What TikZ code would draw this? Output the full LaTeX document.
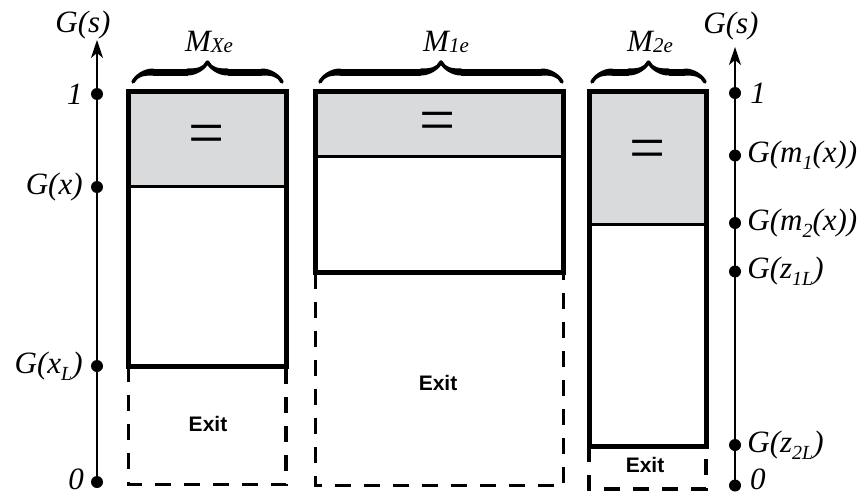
\documentclass[tikz,border=0pt]{standalone}
\usepackage{fontspec}
\setmainfont{Liberation Serif}
\newfontfamily\exitfont{Liberation Sans}
\usetikzlibrary{arrows.meta,decorations.pathreplacing,calligraphy,positioning}
\definecolor{boxgray}{RGB}{217,218,220}
\newcommand\lsub[1]{\raisebox{-0.22em}{\fontsize{20}{20}\selectfont #1}}
\newcommand\msub[1]{\raisebox{-0.02em}{\fontsize{21}{21}\selectfont #1}}
\begin{document}
\begin{tikzpicture}[x=1pt,y=-1pt,
  lbl/.style={font=\fontsize{31}{33}\selectfont\itshape, inner sep=2pt},
  dot/.style={circle,fill=black,inner sep=0pt,minimum size=12pt},
  axis/.style={line width=1.4pt,-{Stealth[length=18pt,width=12pt,inset=5pt]}},
  solidbox/.style={line width=5pt},
  divider/.style={line width=3pt},
  exitbox/.style={line width=3.6pt,dash pattern=on 16pt off 13pt},
  exitlbl/.style={font=\exitfont\bfseries\fontsize{21}{21}\selectfont},
  eqlbl/.style={font=\fontsize{64}{64}\selectfont, inner sep=0pt},
  brc/.style={decorate,decoration={calligraphic brace,amplitude=20pt},line width=7pt},
]
\useasboundingbox (0,0) rectangle (861,495);

% ---- left axis
\node[dot] (l1) at (97,94) {};
\node[dot] (lx) at (97,187) {};
\node[dot] (lxl) at (97,366) {};
\node[dot] (l0) at (97,482) {};
\coordinate (ltop) at (97,40);
\draw[axis] (l0.center) -- (ltop);
\node[lbl,left=6pt of l1] (tl1) {1};
\node[lbl,left=6pt of lx] (tlx) {G(x)};
\node[lbl,left=6pt of lxl] (tlxl) {G(x\lsub{L})};
\node[lbl,anchor=base east] (tl0) at (86,489) {0};
\node[lbl,anchor=base] (tls) at (83,33) {G(s)};

% ---- right axis
\node[dot] (r1) at (735,93) {};
\node[dot] (rm1) at (735,155.5) {};
\node[dot] (rm2) at (735,223) {};
\node[dot] (rz1) at (735,271.5) {};
\node[dot] (rz2) at (735,445) {};
\node[dot] (r0) at (735,485.5) {};
\coordinate (rtop) at (735,47);
\draw[axis] (r0.center) -- (rtop);
\node[lbl,right=7pt of r1] (tr1) {1};
\node[lbl,right=4pt of rm1] (trm1) {G(m\lsub{1}(x))};
\node[lbl,right=4pt of rm2] (trm2) {G(m\lsub{2}(x))};
\node[lbl,right=4pt of rz1] (trz1) {G(z\lsub{1L})};
\node[lbl,right=4pt of rz2] (trz2) {G(z\lsub{2L})};
\node[lbl,anchor=base west] (tr0) at (748,489) {0};
\node[lbl,anchor=base] (trs) at (731,34) {G(s)};

% ---- box MXe
\fill[boxgray] (128.5,91) rectangle (286,186);
\draw[divider] (128.5,186) -- (286,186);
\draw[solidbox] (128.5,91) rectangle (286,366);
\draw[exitbox] (128.5,366) -- (128.5,484.5) -- (286,484.5) -- (286,366);
\node[eqlbl] (eq1) at (207,140) {=};
\node[exitlbl] (ex1) at (208,424) {Exit};
\draw[brc] (133,82) -- (282,82);
\node[lbl,anchor=base] (mx) at (209,52) {M\msub{Xe}};

% ---- box M1e
\fill[boxgray] (315.5,91) rectangle (563.5,156.5);
\draw[divider] (315.5,156.5) -- (563.5,156.5);
\draw[solidbox] (315.5,91) rectangle (563.5,272.5);
\draw[exitbox] (315.5,272.5) -- (315.5,485.5) -- (563.5,485.5) -- (563.5,272.5);
\node[eqlbl] (eq2) at (438,127) {=};
\node[exitlbl] (ex2) at (438,383) {Exit};
\draw[brc] (320,82) -- (562,82);
\node[lbl,anchor=base] (m1) at (446,52) {M\msub{1e}};

% ---- box M2e
\fill[boxgray] (589,91) rectangle (706,224);
\draw[divider] (589,224) -- (706,224);
\draw[solidbox] (589,91) rectangle (706,446);
\draw[exitbox] (589,446) -- (589,489) -- (706,489) -- (706,446);
\node[eqlbl] (eq3) at (648,155) {=};
\node[exitlbl] (ex3) at (645,465) {Exit};
\draw[brc] (592,82) -- (705,82);
\node[lbl,anchor=base] (m2) at (650,52) {M\msub{2e}};
\end{tikzpicture}
\end{document}
